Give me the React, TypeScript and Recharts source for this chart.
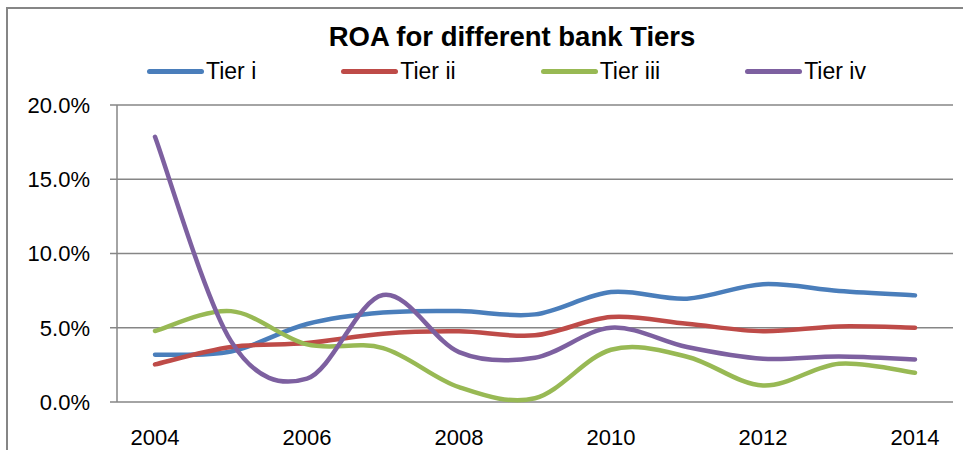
import React from 'react';
import { LineChart, Line, XAxis, YAxis, CartesianGrid, Legend } from 'recharts';

const years = [2004, 2005, 2006, 2007, 2008, 2009, 2010, 2011, 2012, 2013, 2014];
const tierI = [3.18, 3.4, 5.25, 6.02, 6.12, 5.9, 7.4, 6.96, 7.93, 7.47, 7.18];
const tierII = [2.53, 3.7, 3.97, 4.6, 4.76, 4.49, 5.72, 5.27, 4.76, 5.09, 5.0];
const tierIII = [4.78, 6.12, 3.88, 3.63, 1.0, 0.25, 3.52, 3.05, 1.11, 2.58, 1.97];
const tierIV = [17.86, 4.1, 1.58, 7.2, 3.36, 2.98, 5.0, 3.7, 2.91, 3.07, 2.87];

const seriesNames = ['Tier i', 'Tier ii', 'Tier iii', 'Tier iv'];
const seriesColors = ['#4A7EBB', '#BE4B48', '#98B954', '#7D60A0'];

const yTicks = [0, 5, 10, 15, 20];
const xLabelTicks = [2004, 2006, 2008, 2010, 2012, 2014];
const xBoundaryTicks = [2003.5, 2004.5, 2005.5, 2006.5, 2007.5, 2008.5, 2009.5, 2010.5, 2011.5, 2012.5, 2013.5, 2014.5];
const xDomain = [2003.5, 2014.5];

const data = years.map((year, i) => ({
  year,
  t1: tierI[i],
  t2: tierII[i],
  t3: tierIII[i],
  t4: tierIV[i],
}));
const keys = ['t1', 't2', 't3', 't4'];

// Excel-style smoothed line (Catmull-Rom with 1/6 tension)
const excelCurve = (context: any) => {
  let pts: number[][] = [];
  return {
    areaStart() {},
    areaEnd() {},
    lineStart() {
      pts = [];
    },
    lineEnd() {
      const n = pts.length;
      if (n === 0) return;
      context.moveTo(pts[0][0], pts[0][1]);
      for (let i = 0; i < n - 1; i++) {
        const p0 = pts[Math.max(i - 1, 0)];
        const p1 = pts[i];
        const p2 = pts[i + 1];
        const p3 = pts[Math.min(i + 2, n - 1)];
        context.bezierCurveTo(
          p1[0] + (p2[0] - p0[0]) / 6,
          p1[1] + (p2[1] - p0[1]) / 6,
          p2[0] - (p3[0] - p1[0]) / 6,
          p2[1] - (p3[1] - p1[1]) / 6,
          p2[0],
          p2[1]
        );
      }
    },
    point(x: number, y: number) {
      pts.push([x, y]);
    },
  };
};

const axisColor = '#868686';

const renderLegend = (props: any) => {
  const payload = props.payload || [];
  return (
    <div style={{ display: 'flex', alignItems: 'center', height: 30, gap: 85 }}>
      {payload.map((p: any) => (
        <div key={p.value} style={{ display: 'flex', alignItems: 'center', height: 30 }}>
          <div style={{ width: 57, height: 5, borderRadius: 2.5, background: p.color, marginRight: 2 }} />
          <span style={{ fontSize: 23, lineHeight: '30px', color: '#000', whiteSpace: 'nowrap' }}>{p.value}</span>
        </div>
      ))}
    </div>
  );
};

export default function App() {
  return (
    <div
      style={{
        position: 'absolute',
        left: 0,
        top: 0,
        width: 963,
        height: 450,
        overflow: 'hidden',
        background: '#fff',
        fontFamily: '"Liberation Sans", Arial, sans-serif',
      }}
    >
      <div
        style={{
          position: 'absolute',
          left: 6,
          top: 7,
          width: 957,
          height: 443,
          borderLeft: `2px solid ${axisColor}`,
          borderTop: `2px solid ${axisColor}`,
          pointerEvents: 'none',
        }}
      />
      <div
        style={{
          position: 'absolute',
          left: 312,
          top: 23,
          width: 400,
          textAlign: 'center',
          fontSize: 27.5,
          lineHeight: '27.5px',
          fontWeight: 'bold',
          color: '#000',
          whiteSpace: 'nowrap',
          zIndex: 2,
        }}
      >
        ROA for different bank Tiers
      </div>
      <LineChart
        width={963}
        height={450}
        data={data}
        margin={{ top: 105, right: 10, bottom: 8, left: 0 }}
      >
        <CartesianGrid vertical={false} stroke={axisColor} strokeWidth={1.5} yAxisId="y" xAxisId="labels" />
        <XAxis
          xAxisId="marks"
          type="number"
          domain={xDomain}
          allowDataOverflow
          ticks={xBoundaryTicks}
          tick={false}
          tickSize={7}
          height={0}
          axisLine={{ stroke: axisColor, strokeWidth: 1.5 }}
          tickLine={{ stroke: axisColor, strokeWidth: 1.5 }}
        />
        <XAxis
          xAxisId="labels"
          type="number"
          dataKey="year"
          domain={xDomain}
          allowDataOverflow
          ticks={xLabelTicks}
          interval={0}
          height={40}
          tickSize={7}
          tickMargin={20}
          axisLine={false}
          tickLine={false}
          tick={{ fill: '#000', fontSize: 22 }}
        />
        <YAxis
          yAxisId="y"
          type="number"
          domain={[0, 20]}
          ticks={yTicks}
          interval={0}
          width={117}
          tickSize={7}
          tickMargin={20}
          tickFormatter={(v: number) => v.toFixed(1) + '%'}
          axisLine={{ stroke: axisColor, strokeWidth: 1.5 }}
          tickLine={{ stroke: axisColor, strokeWidth: 1.5 }}
          tick={{ fill: '#000', fontSize: 22 }}
        />
        <Legend
          layout="horizontal"
          verticalAlign="middle"
          align="center"
          wrapperStyle={{ top: 56, left: 147, width: 800, height: 30 }}
          content={renderLegend}
        />
        {keys.map((k, i) => (
          <Line
            key={k}
            xAxisId="labels"
            yAxisId="y"
            dataKey={k}
            name={seriesNames[i]}
            stroke={seriesColors[i]}
            strokeWidth={4.5}
            strokeLinecap="round"
            dot={false}
            activeDot={false}
            type={excelCurve as any}
            isAnimationActive={false}
          />
        ))}
      </LineChart>
    </div>
  );
}
